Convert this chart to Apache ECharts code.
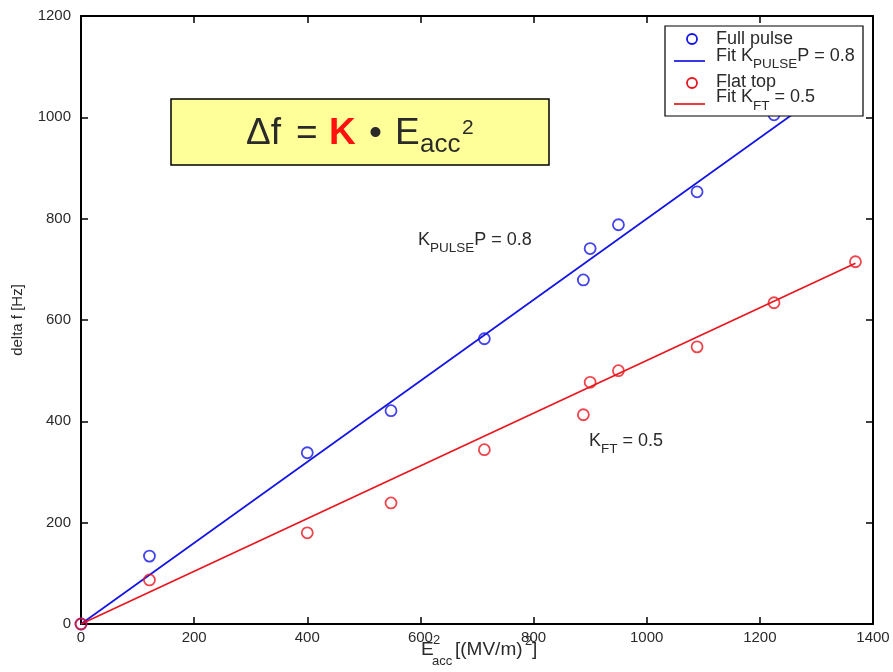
<!DOCTYPE html>
<html>
<head>
<meta charset="utf-8">
<script src="https://cdn.jsdelivr.net/npm/echarts@6/dist/echarts.min.js"></script>
<style>
html,body{margin:0;padding:0;background:#fff}
#c{width:893px;height:672px}
</style>
</head>
<body>
<div id="c"></div>
<script>
// Lorentz-force detuning vs. accelerating gradient squared
const eaccSquared = [0, 121, 400, 548, 713, 888, 900, 950, 1089, 1225];
const fullPulse   = [0, 134, 338, 421, 563, 679, 741, 788, 853, 1005];
const flatTopX    = [0, 121, 400, 548, 713, 888, 900, 950, 1089, 1225, 1369];
const flatTop     = [0, 87, 180, 239, 344, 413, 477, 500, 547, 634, 715];

// linear fits through the origin (end points)
const fitX        = [0, 1369];
const fitPulse    = [0, 1095];
const fitFlatTop  = [0, 712];

const xTicks = { min: 0, max: 1400, interval: 200 };
const yTicks = { min: 0, max: 1200, interval: 200 };

const BLUE = '#1414e6';
const RED = '#e8161e';
const INK = '#2a2a2a';
const FONT = '"Liberation Sans", Arial, sans-serif';

const pairs = (xs, ys) => xs.map((x, i) => [x, ys[i]]);

// Lay out a run of text pieces (with sub/superscripts) from left to right
const ctx = document.createElement('canvas').getContext('2d');
function textRun(x, y, pieces, z) {
  const out = [];
  let cx = x;
  pieces.forEach(p => {
    const weight = p.weight || 'normal';
    const font = weight + ' ' + p.size + 'px ' + FONT;
    ctx.font = font;
    const w = ctx.measureText(p.t).width;
    if (p.x !== undefined) cx = p.x;
    out.push({
      type: 'text', z: z || 100, silent: true,
      x: cx, y: y + (p.dy || 0),
      style: {
        text: p.t, fill: p.color || INK, font: font,
        textAlign: 'left', textVerticalAlign: 'middle'
      }
    });
    if (!p.noAdvance) cx += w;
  });
  return out;
}

const graphics = [];

// formula box
graphics.push({
  type: 'rect', z: 90, silent: true,
  shape: { x: 171, y: 99, width: 378, height: 66 },
  style: { fill: '#ffff99', stroke: '#000', lineWidth: 1.5 }
});
graphics.push(...textRun(247, 134, [
  { t: '\u0394f', size: 37, x: 246 },
  { t: '=', size: 37, x: 296 },
  { t: 'K', size: 37, weight: 'bold', color: '#ff1010', x: 329 },
  { t: '\u2022', size: 37, x: 369 },
  { t: 'E', size: 37, x: 395 },
  { t: 'acc', size: 26, dy: 11, x: 420 },
  { t: '2', size: 21, dy: -6, x: 462 }
], 95));

// annotations
graphics.push(...textRun(418, 240, [
  { t: 'K', size: 18 },
  { t: 'PULSE', size: 13.5, dy: 8 },
  { t: 'P = 0.8', size: 18 }
]));
graphics.push(...textRun(589, 441, [
  { t: 'K', size: 18 },
  { t: 'FT', size: 13.5, dy: 8 },
  { t: ' = 0.5', size: 18 }
]));

// x axis name
graphics.push(...textRun(421, 650, [
  { t: 'E', size: 19 },
  { t: '2', size: 13, dy: -10, x: 433, noAdvance: true },
  { t: 'acc', size: 13, dy: 11, x: 432 },
  { t: '[(MV/m)', size: 19, x: 455 },
  { t: '2', size: 13, dy: -9, x: 525 },
  { t: ']', size: 19, x: 532 }
]));

// legend box
const LG = 200;
graphics.push({
  type: 'rect', z: LG, silent: true,
  shape: { x: 665, y: 26, width: 198, height: 90 },
  style: { fill: '#fff', stroke: '#000', lineWidth: 1.2 }
});
graphics.push({
  type: 'circle', z: LG + 1, silent: true,
  shape: { cx: 692, cy: 39, r: 5 },
  style: { fill: 'none', stroke: BLUE, lineWidth: 1.8 }
});
graphics.push({
  type: 'line', z: LG + 1, silent: true,
  shape: { x1: 674, y1: 61, x2: 705, y2: 61 },
  style: { stroke: BLUE, lineWidth: 1.7 }
});
graphics.push({
  type: 'circle', z: LG + 1, silent: true,
  shape: { cx: 692, cy: 83, r: 5 },
  style: { fill: 'none', stroke: RED, lineWidth: 1.8 }
});
graphics.push({
  type: 'line', z: LG + 1, silent: true,
  shape: { x1: 674, y1: 104, x2: 705, y2: 104 },
  style: { stroke: RED, lineWidth: 1.7 }
});
graphics.push(...textRun(716, 39, [{ t: 'Full pulse', size: 18 }], LG + 2));
graphics.push(...textRun(716, 56, [
  { t: 'Fit K', size: 18 },
  { t: 'PULSE', size: 13.5, dy: 8 },
  { t: 'P = 0.8', size: 18 }
], LG + 2));
graphics.push(...textRun(716, 82, [{ t: 'Flat top', size: 18 }], LG + 2));
graphics.push(...textRun(716, 97, [
  { t: 'Fit K', size: 18 },
  { t: 'FT', size: 13.5, dy: 9 },
  { t: ' = 0.5', size: 18 }
], LG + 2));

const axisCommon = {
  type: 'value',
  splitLine: { show: false },
  axisLine: { show: true, onZero: false, lineStyle: { color: '#000', width: 2 } },
  axisTick: { show: true, inside: true, length: 7, lineStyle: { color: '#000', width: 1.5 } }
};
const plain = v => String(v);

const option = {
  animation: false,
  backgroundColor: '#fff',
  textStyle: { fontFamily: FONT },
  grid: { left: 81, right: 20, top: 16, bottom: 48, containLabel: false },
  xAxis: [
    Object.assign({}, axisCommon, xTicks, {
      position: 'bottom',
      axisLabel: { color: INK, fontSize: 15, margin: 6, fontFamily: FONT, formatter: plain }
    }),
    Object.assign({}, axisCommon, xTicks, {
      position: 'top',
      axisLabel: { show: false }
    })
  ],
  yAxis: [
    Object.assign({}, axisCommon, yTicks, {
      position: 'left',
      name: 'delta f [Hz]',
      nameLocation: 'middle',
      nameGap: 56,
      nameTextStyle: { color: INK, fontSize: 15, fontFamily: FONT },
      axisLabel: { color: INK, fontSize: 15, margin: 10, fontFamily: FONT, formatter: plain }
    }),
    Object.assign({}, axisCommon, yTicks, {
      position: 'right',
      axisLabel: { show: false }
    })
  ],
  series: [
    {
      name: 'Full pulse', type: 'scatter', xAxisIndex: 0, yAxisIndex: 0,
      data: pairs(eaccSquared, fullPulse),
      symbol: 'circle', symbolSize: 11, z: 3,
      itemStyle: { color: 'rgba(0,0,0,0)', borderColor: BLUE, borderWidth: 1.8 }
    },
    {
      name: 'Fit K_PULSE P = 0.8', type: 'line', xAxisIndex: 0, yAxisIndex: 0,
      data: pairs(fitX, fitPulse),
      symbol: 'none', z: 2,
      lineStyle: { color: BLUE, width: 1.7 }
    },
    {
      name: 'Flat top', type: 'scatter', xAxisIndex: 0, yAxisIndex: 0,
      data: pairs(flatTopX, flatTop),
      symbol: 'circle', symbolSize: 11, z: 3,
      itemStyle: { color: 'rgba(0,0,0,0)', borderColor: RED, borderWidth: 1.8 }
    },
    {
      name: 'Fit K_FT = 0.5', type: 'line', xAxisIndex: 0, yAxisIndex: 0,
      data: pairs(fitX, fitFlatTop),
      symbol: 'none', z: 2,
      lineStyle: { color: RED, width: 1.7 }
    }
  ],
  graphic: graphics
};

const chart = echarts.init(document.getElementById('c'), null, { renderer: 'canvas' });
chart.setOption(option);
</script>
</body>
</html>
